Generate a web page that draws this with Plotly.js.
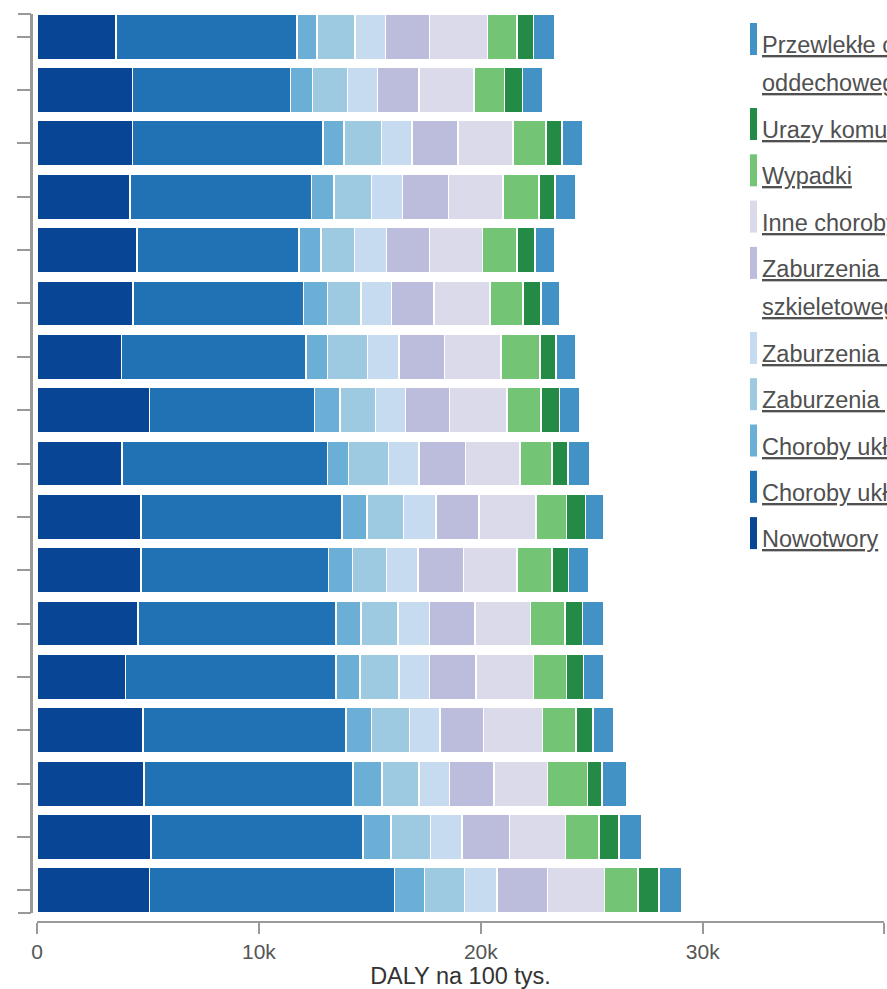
<!DOCTYPE html>
<html>
<head>
<meta charset="utf-8">
<script src="https://cdn.plot.ly/plotly-3.0.1.min.js"></script>
<style>html,body{margin:0;padding:0;background:#fff;overflow:hidden}#chart{width:887px;height:989px}</style>
</head>
<body>
<div id="chart"></div>
<script>
// 17 bars, top to bottom (category labels are cut off in the reference)
const categories = ['1','2','3','4','5','6','7','8','9','10','11','12','13','14','15','16','17'];

// DALY per 100k, stacked left to right
const nowotwory   = [3550,4310,4310,4180,4500,4330,3800,5070,3830,4690,4690,4560,3990,4780,4820,5130,5070];
const krazenia    = [8160,7120,8580,8200,7310,7670,8330,7440,9250,9050,8450,8920,9490,9150,9420,9560,11030];
const pokarmowe   = [910,980,950,1000,980,1080,970,1140,950,1140,1080,1120,1080,1140,1310,1260,1360];
const psychiczne  = [1710,1580,1690,1690,1520,1520,1800,1610,1800,1630,1520,1670,1760,1710,1670,1780,1810];
const neurologiczne = [1370,1350,1360,1390,1450,1380,1410,1350,1390,1470,1420,1420,1370,1390,1380,1420,1460];
const miesniowe   = [1990,1880,2090,2090,1930,1900,2050,1970,2090,1930,2050,2050,2090,1950,2000,2150,2280];
const inne        = [2620,2470,2470,2460,2390,2530,2560,2590,2460,2570,2430,2510,2600,2660,2410,2520,2560];
const wypadki     = [1330,1380,1480,1620,1560,1500,1740,1550,1430,1380,1560,1550,1480,1520,1800,1500,1520];
const urazy       = [740,800,740,720,800,810,730,820,720,860,760,780,760,760,660,910,950];
const oddechowe   = [950,910,930,950,870,820,870,910,990,810,910,950,910,950,1090,1010,1000];

const seriesNames = [
  'Nowotwory',
  'Choroby układu krążenia',
  'Choroby układu pokarmowego',
  'Zaburzenia psychiczne',
  'Zaburzenia neurologiczne',
  'Zaburzenia układu mięśniowo-szkieletowego',
  'Inne choroby niezakaźne',
  'Wypadki',
  'Urazy komunikacyjne',
  'Przewlekłe choroby układu oddechowego'
];
const seriesValues = [nowotwory, krazenia, pokarmowe, psychiczne, neurologiczne, miesniowe, inne, wypadki, urazy, oddechowe];
const seriesColors = ['#084594','#2171b5','#6baed6','#9ecae1','#c6dbef','#bcbddc','#dadaeb','#74c476','#238b45','#4292c6'];

// legend lines as displayed (top to bottom)
const legendLines = [
  ['Przewlekłe choroby układu', 'oddechowego'],
  ['Urazy komunikacyjne'],
  ['Wypadki'],
  ['Inne choroby niezakaźne'],
  ['Zaburzenia układu mięśniowo-', 'szkieletowego'],
  ['Zaburzenia neurologiczne'],
  ['Zaburzenia psychiczne'],
  ['Choroby układu pokarmowego'],
  ['Choroby układu krążenia'],
  ['Nowotwory']
];
const legendColors = ['#4292c6','#238b45','#74c476','#dadaeb','#bcbddc','#c6dbef','#9ecae1','#6baed6','#2171b5','#084594'];

const xTickVals = [0, 10000, 20000, 30000, 38170];
const xTickText = ['0', '10k', '20k', '30k', ''];
const xMax = 38170;

const W = 887, H = 989;
const M = {l: 31, r: 3, t: 14, b: 67};
const PW = W - M.l - M.r, PH = H - M.t - M.b;
const px2x = p => (p - M.l) / PW;
const py2y = p => (H - M.b - p) / PH;

const traces = seriesNames.map((n, i) => ({
  type: 'bar', orientation: 'h', name: n,
  y: categories, x: seriesValues[i],
  marker: {color: seriesColors[i], line: {color: '#ffffff', width: 1.5}},
  showlegend: false, hoverinfo: 'x+name'
}));
// helper trace for the end caps of the y axis
traces.push({type: 'scatter', x: [], y: [], yaxis: 'y2', showlegend: false, hoverinfo: 'skip'});

const font = 'Liberation Sans, Arial, sans-serif';
const shapes = [], annotations = [];
let legMid = 45;
legendLines.forEach((lines, i) => {
  shapes.push({type: 'rect', xref: 'paper', yref: 'paper',
    x0: px2x(750), x1: px2x(757), y0: py2y(legMid + 10), y1: py2y(legMid - 22),
    fillcolor: legendColors[i], line: {width: 0}});
  lines.forEach((t, j) => {
    annotations.push({xref: 'paper', yref: 'paper', x: px2x(760), y: py2y(legMid + j * 38),
      xanchor: 'left', yanchor: 'middle', showarrow: false,
      text: '<span style="text-decoration:underline">' + t + '</span>',
      font: {family: font, size: 23.5, color: '#505050'}});
  });
  legMid += lines.length > 1 ? 85 : 46.3;
});

const layout = {
  width: W, height: H,
  margin: M,
  paper_bgcolor: '#fff', plot_bgcolor: '#fff',
  barmode: 'stack', bargap: 0.15,
  font: {family: font},
  xaxis: {
    domain: [px2x(37), 1], range: [0, xMax], anchor: 'free', position: 0,
    showline: true, linecolor: '#999', linewidth: 2,
    ticks: 'outside', ticklen: 11, tickwidth: 2, tickcolor: '#999',
    tickmode: 'array', tickvals: xTickVals, ticktext: xTickText,
    showgrid: false, zeroline: false,
    tickfont: {family: font, size: 21, color: '#555'},
    title: {text: 'DALY na 100 tys.', font: {family: font, size: 23.5, color: '#333'}, standoff: 4}
  },
  yaxis: {
    domain: [py2y(913), 1], type: 'category', range: [16.425, -0.425],
    anchor: 'free', position: 0,
    showline: true, linecolor: '#999', linewidth: 3,
    ticks: 'outside', ticklen: 13, tickwidth: 2, tickcolor: '#999',
    showticklabels: false, showgrid: false, zeroline: false
  },
  yaxis2: {
    overlaying: 'y', anchor: 'free', position: 0, range: [0, 1],
    tickmode: 'array', tickvals: [0, 1],
    ticks: 'outside', ticklen: 13, tickwidth: 2, tickcolor: '#999',
    showline: false, showticklabels: false, showgrid: false, zeroline: false
  },
  shapes: shapes,
  annotations: annotations
};

Plotly.newPlot('chart', traces, layout, {displayModeBar: false, staticPlot: true});
</script>
</body>
</html>
